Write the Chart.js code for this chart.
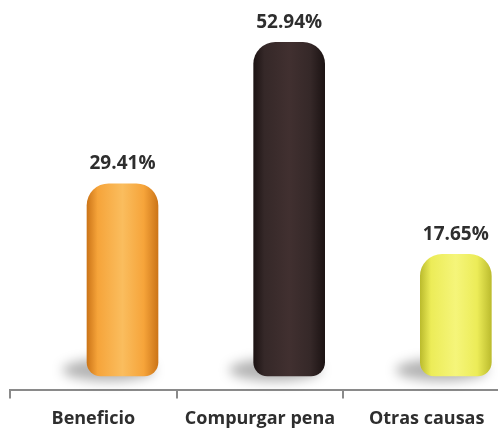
<!DOCTYPE html>
<html>
<head>
<meta charset="utf-8">
<script src="https://cdn.jsdelivr.net/npm/chart.js@4/dist/chart.umd.min.js"></script>
<style>
  html, body { margin: 0; padding: 0; background: #fff; overflow: hidden; }
  #wrap { width: 510px; height: 440px; }
</style>
</head>
<body>
<div id="wrap"><canvas id="chart"></canvas></div>
<script>
// Motivo de egreso (porcentaje)
var categories = ["Beneficio", "Compurgar pena", "Otras causas"];
var values = [29.41, 52.94, 17.65];

// cylinder colours: edge, middle, highlight
var barColors = [
	["#cc7518", "#f6a43a", "#fabd5e"],
	["#1c1313", "#352828", "#413030"],
	["#bcbc2e", "#ecec58", "#f5f57a"]
];
var BAR_W = 71;

function cylinder(ctx) {
	var chart = ctx.chart;
	var i = ctx.dataIndex;
	var c = barColors[i];
	var xs = chart.scales.xb;
	if (!chart.chartArea || !xs || i === undefined) return c[1];
	var cx = xs.getPixelForValue(i);
	var g = chart.ctx.createLinearGradient(cx - BAR_W / 2, 0, cx + BAR_W / 2, 0);
	g.addColorStop(0, c[0]);
	g.addColorStop(0.15, c[1]);
	g.addColorStop(0.5, c[2]);
	g.addColorStop(0.8, c[1]);
	g.addColorStop(1, c[0]);
	return g;
}

var shadowPlugin = {
	id: 'groundShadow',
	beforeDatasetsDraw: function(chart) {
		var ctx = chart.ctx;
		ctx.save();
		ctx.filter = 'blur(6px)';
		ctx.fillStyle = 'rgba(0,0,0,0.30)';
		chart.getDatasetMeta(0).data.forEach(function(bar) {
			ctx.beginPath();
			ctx.ellipse(bar.x - 14, bar.base - 6, 46, 11, 0, 0, Math.PI * 2);
			ctx.fill();
		});
		ctx.restore();
	}
};

var labelPlugin = {
	id: 'valueLabels',
	afterDatasetsDraw: function(chart) {
		var ctx = chart.ctx;
		ctx.save();
		ctx.font = 'bold 19px "Open Sans", sans-serif';
		ctx.fillStyle = '#2e2e2e';
		ctx.textAlign = 'center';
		ctx.textBaseline = 'middle';
		chart.getDatasetMeta(0).data.forEach(function(bar, i) {
			ctx.fillText(values[i].toFixed(2) + '%', bar.x, bar.y - 20);
		});
		ctx.restore();
	}
};

var chart = new Chart(document.getElementById('chart'), {
	type: 'bar',
	data: {
		labels: categories,
		datasets: [{
			data: values.map(function(v, i) { return {x: i, y: v}; }),
			xAxisID: 'xb',
			base: -2.6,
			backgroundColor: cylinder,
			borderWidth: 0,
			borderSkipped: false,
			borderRadius: {topLeft: 22, topRight: 22, bottomLeft: 14, bottomRight: 14},
			barThickness: BAR_W
		}]
	},
	options: {
		responsive: true,
		maintainAspectRatio: false,
		animation: false,
		layout: {padding: {top: 30, left: 10, right: 0, bottom: 0}},
		plugins: {legend: {display: false}, tooltip: {enabled: false}},
		scales: {
			x: {
				type: 'category',
				offset: true,
				grid: {offset: true, drawOnChartArea: false, tickLength: 8, color: '#8a8a8a', lineWidth: 2},
				border: {color: '#8a8a8a', width: 2},
				ticks: {
					color: '#2e2e2e',
					padding: 10,
					font: {family: '"Open Sans", sans-serif', size: 18, weight: 'bold'}
				}
			},
			xb: {
				type: 'linear',
				display: false,
				offset: false,
				min: -0.675,
				max: 2.325
			},
			y: {
				display: false,
				min: -5,
				max: 55
			}
		}
	},
	plugins: [shadowPlugin, labelPlugin]
});
</script>
</body>
</html>
